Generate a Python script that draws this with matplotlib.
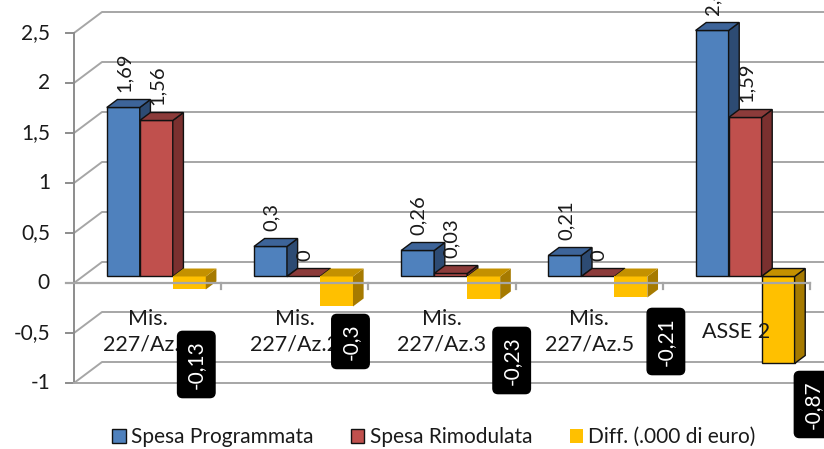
import matplotlib
matplotlib.use("Agg")
import matplotlib.pyplot as plt
from matplotlib.patches import Polygon, Patch
from matplotlib import font_manager

# ---------------- data ----------------
categories = ["Mis.\n227/Az.1", "Mis.\n227/Az.2", "Mis.\n227/Az.3", "Mis.\n227/Az.5", "ASSE 2"]
spesa_programmata = [1.69, 0.30, 0.26, 0.21, 2.46]
spesa_rimodulata = [1.56, 0.00, 0.03, 0.00, 1.59]
diff = [-0.13, -0.30, -0.23, -0.21, -0.87]
series_names = ["Spesa Programmata", "Spesa Rimodulata", "Diff. (.000 di euro)"]
y_ticks = [-1, -0.5, 0, 0.5, 1, 1.5, 2, 2.5]
y_tick_labels = ["-1", "-0,5", "0", "0,5", "1", "1,5", "2", "2,5"]

# ---------------- style ----------------
avail = {f.name for f in font_manager.fontManager.ttflist}
FONT = "Lato" if "Lato" in avail else "DejaVu Sans"
plt.rcParams["font.family"] = [FONT, "DejaVu Sans"]

front_cols = ["#4F81BD", "#C0504D", "#FFC000"]
top_cols = ["#3D6499", "#8C3B3A", "#C49100"]
side_cols = ["#2D4B73", "#7A302F", "#A67A00"]
grid_col = "#A6A6A6"
axis_col = "#8C8C8C"
text_col = "#1A1A1A"

W, H, DPI = 824, 449, 100
PXX = 147.2   # pixels per category unit
PXY = 100.0   # pixels per value unit
X0, Y0 = 74, 283  # pixel position of (0, 0)

fig = plt.figure(figsize=(W / DPI, H / DPI), dpi=DPI)
ax = fig.add_axes([0, 0, 1, 1])
ax.set_xlim(-X0 / PXX, (W - X0) / PXX)
ax.set_ylim((Y0 - H) / PXY, Y0 / PXY)
ax.axis("off")

# depth of the 3D box, in data units
DX, DY = 28 / PXX, 21 / PXY
T0, T1 = 0.31, 0.69          # depth of bar front / back
BW = 33 / PXX                # bar width
n = len(categories)
ymin, ymax = y_ticks[0], y_ticks[-1]


def dep(x, y, t):
    return (x + t * DX, y + t * DY)


# back wall gridlines + left wall diagonals
xr = ax.get_xlim()[1] + 0.2
for v in y_ticks:
    ax.plot([0, DX, xr], [v, v + DY, v + DY], color=grid_col, lw=1.4, zorder=1,
            solid_capstyle="butt")
    ax.plot([-8 / PXX, 0], [v, v], color=axis_col, lw=1.4, zorder=1)
# left axis
ax.plot([0, 0], [ymin, ymax], color=axis_col, lw=1.4, zorder=1)
# floor front edge
ax.plot([0, n, n + DX], [ymin, ymin, ymin + DY], color=grid_col, lw=1.4, zorder=1)

# tick labels
for v, lab in zip(y_ticks, y_tick_labels):
    ax.text(-24 / PXX, v, lab, ha="right", va="center", fontsize=15, color=text_col)

# category labels
for i, c in enumerate(categories):
    ax.text(i + 0.5, -0.49, c, ha="center", va="center", fontsize=15.5,
            linespacing=1.35, color=text_col, zorder=5)

# bars
series = [spesa_programmata, spesa_rimodulata, diff]
yellow_edge = [False, False, False, False, True]


def fmt(v):
    return f"{v:g}".replace(".", ",")


neg_offsets_px = [(7, 75), (14, 35), (28, 61), (35, 44), (35, 41)]

for i in range(n):
    for j, vals in enumerate(series):
        v = vals[i]
        left = i + 0.5 - 1.5 * BW + j * BW
        right = left + BW
        top, bot = max(v, 0), min(v, 0)
        if j < 2 or yellow_edge[i]:
            ec, lw = "#111111", 1.0
        else:
            ec, lw = "none", 0
        z = 3
        if top - bot > 0:
            front = [dep(left, bot, T0), dep(right, bot, T0), dep(right, top, T0), dep(left, top, T0)]
            ax.add_patch(Polygon(front, closed=True, fc=front_cols[j], ec=ec, lw=lw, zorder=z))
            side = [dep(right, bot, T0), dep(right, bot, T1), dep(right, top, T1), dep(right, top, T0)]
            ax.add_patch(Polygon(side, closed=True, fc=side_cols[j], ec=ec, lw=lw, zorder=z))
        topf = [dep(left, top, T0), dep(right, top, T0), dep(right, top, T1), dep(left, top, T1)]
        ax.add_patch(Polygon(topf, closed=True, fc=top_cols[j], ec=ec, lw=lw, zorder=z))

        cx = (left + right) / 2 + T0 * DX
        if v >= 0:
            ax.text(cx + 1 / PXX, top + T0 * DY + 15 / PXY, fmt(v), rotation=90,
                    ha="center", va="bottom", fontsize=14.5, color=text_col, zorder=6)
        else:
            ox, oy = neg_offsets_px[i]
            ax.text(cx + ox / PXX, bot + T0 * DY - oy / PXY, fmt(v), rotation=90,
                    ha="center", va="center", fontsize=15, color="white", zorder=8,
                    bbox=dict(boxstyle="round,pad=0.42,rounding_size=0.25",
                              fc="black", ec="black"))

# front zero axis with category ticks (drawn on top of bars)
ax.plot([-8 / PXX, n], [0, 0], color=grid_col, lw=1.6, zorder=4)
for k in range(1, n + 1):
    ax.plot([k, k], [0, -6 / PXY], color=grid_col, lw=1.6, zorder=4)

# legend
handles = [Patch(fc=front_cols[0], ec="#111111", lw=1.0),
           Patch(fc=front_cols[1], ec="#111111", lw=1.0),
           Patch(fc=front_cols[2], ec="none")]
fig.legend(handles, series_names, loc="center", bbox_to_anchor=(434 / W, 1 - 437 / H),
           ncol=3, frameon=False, fontsize=15, handlelength=0.65, handleheight=0.65,
           handletextpad=0.25, columnspacing=1.8, borderaxespad=0, labelcolor=text_col)

fig.savefig("out.png", dpi=DPI)
